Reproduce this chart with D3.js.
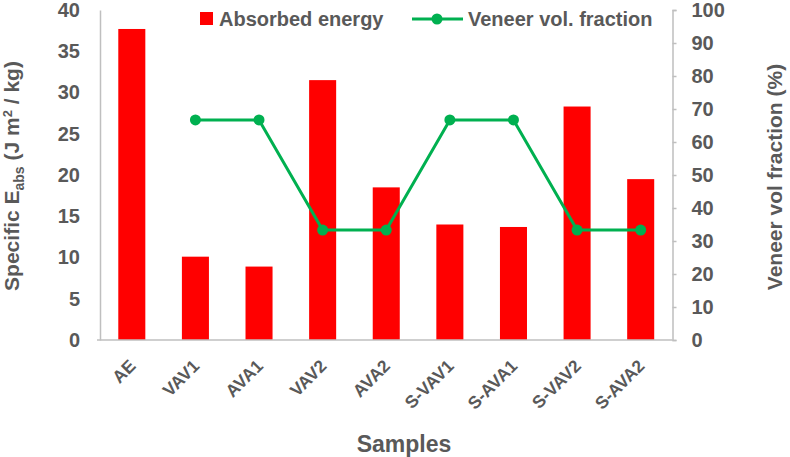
<!DOCTYPE html>
<html><head><meta charset="utf-8">
<script src="https://cdn.jsdelivr.net/npm/d3@7"></script>
<style>body{margin:0;background:#fff}svg{display:block;font-family:Arial,"Liberation Sans",sans-serif}</style>
</head><body><svg id="c" width="790" height="457"></svg>
<script>
const categories = ["AE","VAV1","AVA1","VAV2","AVA2","S-VAV1","S-AVA1","S-VAV2","S-AVA2"];
const absorbedEnergy = [37.7, 10.1, 8.9, 31.5, 18.5, 14.0, 13.7, 28.3, 19.5];
const veneerFraction = [null, 66.7, 66.7, 33.3, 33.3, 66.7, 66.7, 33.3, 33.3];
const leftTicks = [0,5,10,15,20,25,30,35,40];
const rightTicks = [0,10,20,30,40,50,60,70,80,90,100];

const svg = d3.select("#c");
const L = 100, R = 672.5, T = 10, B = 340;
const grey = "#595959", axisCol = "#bfbfbf";
const x = d3.scaleBand().domain(categories).range([L, R]).paddingInner(0.575).paddingOuter(0.2875);
const yL = d3.scaleLinear().domain([0,40]).range([B,T]);
const yR = d3.scaleLinear().domain([0,100]).range([B,T]);

// bars
svg.append("g").selectAll("rect").data(categories).join("rect")
  .attr("x", d => x(d)).attr("width", x.bandwidth())
  .attr("y", (d,i) => yL(absorbedEnergy[i])).attr("height", (d,i) => B - yL(absorbedEnergy[i]))
  .attr("fill", "#ff0000");

// axes
const gL = svg.append("g").attr("transform", `translate(${L},0)`)
  .call(d3.axisLeft(yL).tickValues(leftTicks).tickSize(0).tickPadding(20));
gL.select(".domain").attr("stroke", axisCol).attr("stroke-width", 1.5);
gL.selectAll("text").attr("fill", grey).style("font-size", "20px").style("font-weight", "bold");

const gR = svg.append("g").attr("transform", `translate(${R},0)`)
  .call(d3.axisRight(yR).tickValues(rightTicks).tickSize(4).tickSizeOuter(4).tickPadding(15));
gR.select(".domain").attr("stroke", axisCol).attr("stroke-width", 1.5);
gR.selectAll("line").attr("stroke", axisCol).attr("stroke-width", 1.5);
gR.selectAll("text").attr("fill", grey).style("font-size", "20px").style("font-weight", "bold");

const gX = svg.append("g").attr("transform", `translate(0,${B})`)
  .call(d3.axisBottom(x).tickSize(0).tickSizeOuter(0));
gX.select(".domain").attr("stroke", axisCol).attr("stroke-width", 1.5).attr("d", `M${L-3},0H${R}`);
gX.selectAll("text").attr("fill", grey).style("font-size", "17.5px").style("font-weight", "bold")
  .attr("text-anchor", "end").attr("dy", null).attr("y", 0)
  .attr("transform", "translate(5,27) rotate(-45)");

// line
const pts = categories.map((c,i) => ({c, v: veneerFraction[i]})).filter(d => d.v != null);
const line = d3.line().x(d => x(d.c) + x.bandwidth()/2).y(d => yR(d.v));
svg.append("path").datum(pts).attr("d", line).attr("fill", "none")
  .attr("stroke", "#00b050").attr("stroke-width", 3);
svg.append("g").selectAll("circle").data(pts).join("circle")
  .attr("cx", d => x(d.c) + x.bandwidth()/2).attr("cy", d => yR(d.v)).attr("r", 5.5)
  .attr("fill", "#00b050");

// titles
svg.append("text").attr("transform", "translate(19,176) rotate(-90)")
  .attr("text-anchor", "middle").attr("fill", grey).style("font-size", "21px").style("font-weight", "bold")
  .html('Specific E<tspan dy="5" font-size="14px">abs</tspan><tspan dy="-5"> (J m</tspan><tspan dy="-7" font-size="13px">2</tspan><tspan dy="7"> / kg)</tspan>');
svg.append("text").attr("transform", "translate(782,177) rotate(-90)")
  .attr("text-anchor", "middle").attr("fill", grey).style("font-size", "21px").style("font-weight", "bold")
  .text("Veneer vol fraction (%)");
svg.append("text").attr("x", 404).attr("y", 452).attr("text-anchor", "middle")
  .attr("fill", grey).style("font-size", "23px").style("font-weight", "bold").text("Samples");

// legend
const lg = svg.append("g");
lg.append("rect").attr("x", 200).attr("y", 12).attr("width", 13).attr("height", 13).attr("fill", "#ff0000");
lg.append("text").attr("x", 219).attr("y", 26).attr("fill", grey).style("font-size", "20px").style("font-weight", "bold").text("Absorbed energy");
lg.append("line").attr("x1", 412).attr("x2", 463).attr("y1", 19).attr("y2", 19).attr("stroke", "#00b050").attr("stroke-width", 3);
lg.append("circle").attr("cx", 437).attr("cy", 19).attr("r", 5.5).attr("fill", "#00b050");
lg.append("text").attr("x", 468).attr("y", 26).attr("fill", grey).style("font-size", "20px").style("font-weight", "bold").text("Veneer vol. fraction");
</script></body></html>
